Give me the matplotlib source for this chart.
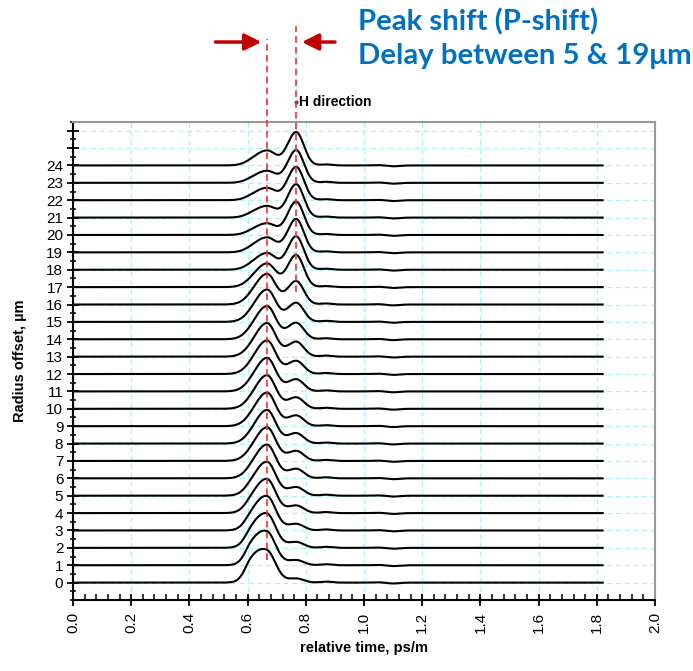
import numpy as np
import matplotlib.pyplot as plt
from matplotlib.ticker import MultipleLocator

plt.rcParams['font.family'] = ['Liberation Sans', 'DejaVu Sans']

# radial offsets of the launch spot (um)
offsets = list(range(25))

# relative heights of the fast mode group (~0.667 ps/m)
fast_amp = [1.75, 1.85, 1.9, 1.92, 1.92, 1.92, 1.92, 1.92, 1.92, 1.92,
            1.92, 1.92, 1.92, 1.92, 1.9, 1.85, 1.75, 1.35, 0.95, 0.85,
            0.66, 0.66, 0.7, 0.68, 0.85]
# relative heights of the slow mode group (~0.767 ps/m)
slow_amp = [0.24, 0.30, 0.34, 0.38, 0.44, 0.50, 0.55, 0.58, 0.60, 0.62,
            0.66, 0.70, 0.76, 0.86, 0.95, 1.10, 1.35, 1.85, 1.92, 1.92,
            1.92, 1.92, 1.92, 1.88, 1.92]
# early shoulder seen near the core (~0.61 ps/m)
shoulder_amp = [0.72, 0.60, 0.46, 0.34, 0.24, 0.16, 0.10, 0.07, 0.05, 0.05,
                0.05, 0.05, 0.05, 0.05, 0.05, 0.05, 0.05, 0.05, 0.05, 0.05,
                0.05, 0.05, 0.05, 0.05, 0.05]

fast_t, slow_t, shoulder_t = 0.667, 0.767, 0.612

# small ringing on the trailing edge, common to all traces
ripple_t = [0.87, 1.05, 1.10]
ripple_amp = [0.06, 0.02, -0.05]

t = np.linspace(0.0, 1.82, 1500)


def pulse(t, t0, s_left, s_right):
    s = np.where(t < t0, s_left, s_right)
    return np.exp(-(t - t0) ** 2 / (2 * s ** 2))


fig = plt.figure(figsize=(6.93, 6.71), dpi=100)
ax = fig.add_axes([0.1053, 0.1058, 0.8399, 0.7124])

ripple = sum(a * pulse(t, t0, 0.02, 0.02) for t0, a in zip(ripple_t, ripple_amp))
for k, a1, a2, a0 in zip(offsets, fast_amp, slow_amp, shoulder_amp):
    y = (a1 * pulse(t, fast_t, 0.042, 0.03)
         + a2 * pulse(t, slow_t, 0.03, 0.026)
         + a0 * pulse(t, shoulder_t, 0.022, 0.03)
         + ripple)
    ax.plot(t, k + y, color='black', lw=1.5, zorder=3)

ax.set_xlim(0, 2.0)
ax.set_ylim(-1, 26.5)

xt = np.round(np.arange(0, 2.01, 0.2), 1)
ax.set_xticks(xt)
ax.set_xticklabels(['%.1f' % v for v in xt], rotation=90)
ax.xaxis.set_minor_locator(MultipleLocator(0.04))
ax.set_yticks(range(27))
ax.set_yticklabels([str(i) if i <= 24 else '' for i in range(27)])
ax.yaxis.set_minor_locator(MultipleLocator(0.5))

ax.tick_params(axis='x', which='major', direction='inout', length=9, width=1.3, labelsize=11, pad=4)
ax.tick_params(axis='x', which='minor', direction='in', length=4, width=1.1)
ax.tick_params(axis='y', which='major', direction='inout', length=8, width=1.3, labelsize=11, pad=3)
ax.tick_params(axis='y', which='minor', direction='inout', length=5, width=1.1)

ax.grid(True, which='major', color='#a4f4f4', ls=(0, (4, 3)), lw=0.9, zorder=0)

for side in ['left', 'bottom']:
    ax.spines[side].set_color('black')
    ax.spines[side].set_linewidth(1.5)
for side in ['top', 'right']:
    ax.spines[side].set_color('#999999')
    ax.spines[side].set_linewidth(1.5)

ax.set_xlabel('relative time, ps/m', fontsize=10.5, fontweight='bold', labelpad=6)
ax.set_ylabel('Radius offset, \u00b5m', fontsize=10.5, fontweight='bold', labelpad=14)

# dashed markers on the two peak positions
ax.plot([fast_t, fast_t], [1.3, 31.3], color='#f03030', ls=(0, (4, 2.5)), lw=1.2, clip_on=False, zorder=4)
ax.plot([slow_t, slow_t], [16.7, 32.0], color='#f03030', ls=(0, (4, 2.5)), lw=1.2, clip_on=False, zorder=4)

# arrows pointing at the peak shift
arrow = dict(arrowstyle='-|>,head_width=0.5,head_length=1.0', color='#c00000', lw=2.5)
ax.annotate('', xy=(fast_t - 0.01, 31.1), xytext=(0.48, 31.1), arrowprops=arrow, annotation_clip=False)
ax.annotate('', xy=(slow_t + 0.01, 31.1), xytext=(0.91, 31.1), arrowprops=arrow, annotation_clip=False)

ax.plot([slow_t], [27.65], marker='o', ms=2, color='#444444', clip_on=False)
ax.text(slow_t + 0.01, 27.65, 'H direction', fontsize=10, fontweight='bold', va='center', ha='left')

fig.text(358 / 693, 1 - 30 / 671, 'Peak shift (P-shift)', family='Lato', fontweight='bold',
         fontsize=21.2, color='#0070c0', va='baseline', ha='left')
fig.text(358 / 693, 1 - 64 / 671, 'Delay between 5 & 19\u03bcm', family='Lato', fontweight='bold',
         fontsize=21.2, color='#0070c0', va='baseline', ha='left')

fig.savefig('out.png', dpi=100)
